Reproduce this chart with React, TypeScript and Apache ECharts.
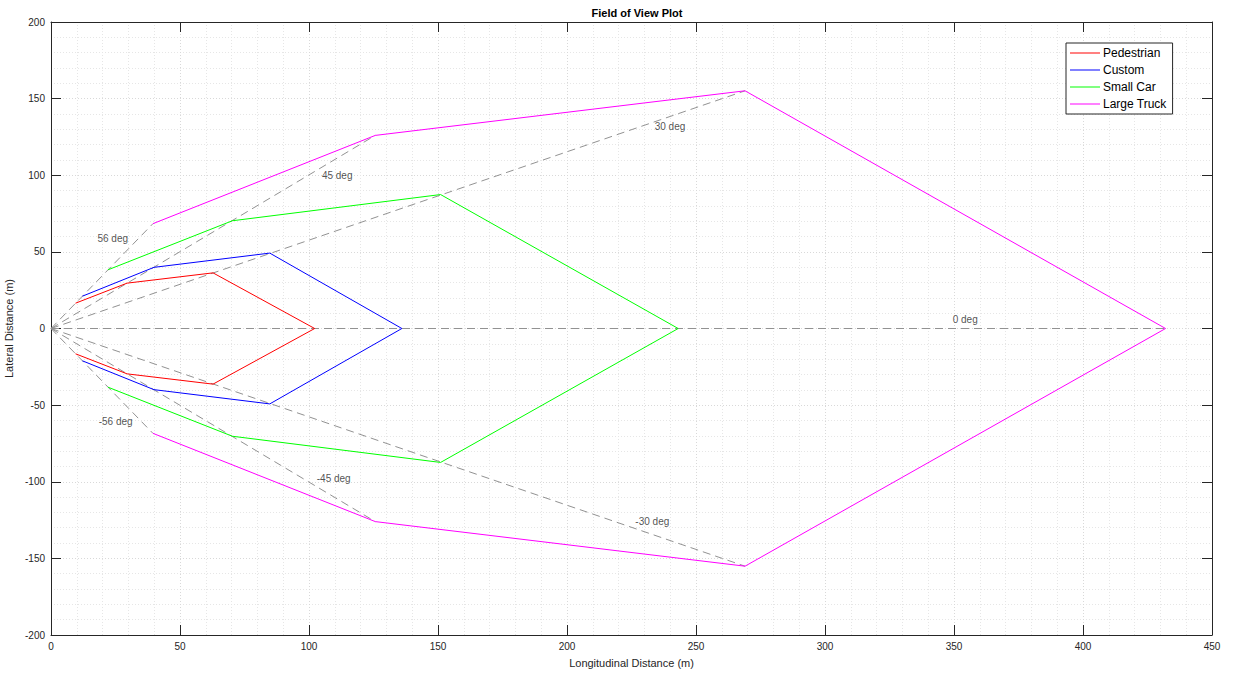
import React, { useEffect, useRef } from "react";
import * as echarts from "echarts";

// Field-of-view outlines (longitudinal x, lateral y)
const pedestrianX = [9.5, 29.5, 62.8, 102.2, 62.8, 29.5, 9.5];
const pedestrianY = [16.5, 29.6, 36.3, 0, -36.3, -29.6, -16.5];
const customX = [12.2, 39.9, 84.8, 136.0, 84.8, 39.9, 12.2];
const customY = [21.1, 39.9, 49.2, 0, -49.2, -39.9, -21.1];
const smallCarX = [22.1, 70.3, 151.0, 243.1, 151.0, 70.3, 22.1];
const smallCarY = [38.3, 70.3, 87.4, 0, -87.4, -70.3, -38.3];
const largeTruckX = [39.5, 125.7, 269.0, 432.0, 269.0, 125.7, 39.5];
const largeTruckY = [68.4, 126.0, 155.1, 0, -155.1, -126.0, -68.4];

// Dashed angle rays from the origin
const rayEndX = [39.5, 125.7, 269.0, 432.0, 269.0, 125.7, 39.5];
const rayEndY = [68.4, 126.0, 155.1, 0, -155.1, -126.0, -68.4];

// Angle labels
const angleLabels = ["56 deg", "45 deg", "30 deg", "0 deg", "-56 deg", "-45 deg", "-30 deg"];
const angleLabelX = [18, 105, 234, 349.5, 18.5, 103, 226.5];
const angleLabelY = [58.5, 100, 131.5, 6, -60.5, -98, -126];

const seriesNames = ["Pedestrian", "Custom", "Small Car", "Large Truck"];
const seriesColors = ["#ff0000", "#0000ff", "#00ff00", "#ff00ff"];

const xTicks = { min: 0, max: 450, interval: 50 };
const yTicks = { min: -200, max: 200, interval: 50 };

const FONT = "'Liberation Sans', Arial, Helvetica, sans-serif";
const AXIS_COLOR = "#262626";

function zip(xs: number[], ys: number[]) {
  return xs.map((x, i) => [x, ys[i]]);
}

export default function App() {
  const ref = useRef<HTMLDivElement>(null);
  useEffect(() => {
    if (!ref.current) return;
    const chart = echarts.init(ref.current, null, { renderer: "svg" });
    const outlines = [
      zip(pedestrianX, pedestrianY),
      zip(customX, customY),
      zip(smallCarX, smallCarY),
      zip(largeTruckX, largeTruckY),
    ];
    const splitLine = { show: true, lineStyle: { color: "#d9d9d9", type: [1, 2] as any, width: 1 } };
    const minorSplitLine = { show: true, lineStyle: { color: "#e6e6e6", type: [1, 2] as any, width: 1 } };
    const baseX = {
      type: "value" as const,
      min: xTicks.min,
      max: xTicks.max,
      interval: xTicks.interval,
      axisLine: { show: true, onZero: false, lineStyle: { color: AXIS_COLOR, width: 1 } },
      axisTick: { show: true, inside: true, length: 10, lineStyle: { color: AXIS_COLOR } },
      minorTick: { show: false, splitNumber: 5 },
    };
    const baseY = {
      type: "value" as const,
      min: yTicks.min,
      max: yTicks.max,
      interval: yTicks.interval,
      axisLine: { show: true, onZero: false, lineStyle: { color: AXIS_COLOR, width: 1 } },
      axisTick: { show: true, inside: true, length: 10, lineStyle: { color: AXIS_COLOR } },
      minorTick: { show: false, splitNumber: 5 },
    };
    const rays = rayEndX.map((x, i) => ({
      type: "line" as const,
      xAxisIndex: 0,
      yAxisIndex: 0,
      data: [[0, 0], [x, rayEndY[i]]],
      showSymbol: false,
      symbol: "none",
      silent: true,
      lineStyle: { color: "#929292", width: 1, type: [8, 5] as any },
      z: 1,
    }));
    chart.setOption({
      animation: false,
      backgroundColor: "#ffffff",
      textStyle: { fontFamily: FONT },
      title: {
        text: "Field of View Plot",
        left: 632,
        top: 2,
        textAlign: "center",
        textStyle: { fontFamily: FONT, fontSize: 11, fontWeight: "bold", color: "#000" },
      },
      legend: {
        data: seriesNames,
        orient: "vertical",
        left: 1066,
        top: 43,
        itemWidth: 30,
        itemHeight: 12,
        itemGap: 5,
        padding: [4, 6, 4, 4],
        borderColor: AXIS_COLOR,
        borderWidth: 1,
        backgroundColor: "#ffffff",
        icon: "path://M0,5.5L30,5.5L30,6.5L0,6.5Z",
        textStyle: { fontFamily: FONT, fontSize: 12, color: "#000", padding: [0, 0, 0, -2] },
        z: 10,
      },
      grid: { left: 51, right: 21, top: 22, bottom: 39, containLabel: false, outerBoundsMode: "none" },
      xAxis: [
        {
          ...baseX,
          position: "bottom",
          name: "Longitudinal Distance (m)",
          nameLocation: "middle",
          nameGap: 22,
          nameTextStyle: { fontFamily: FONT, fontSize: 11, color: AXIS_COLOR },
          axisLabel: { fontFamily: FONT, fontSize: 10, color: AXIS_COLOR, margin: 6 },
          splitLine,
          minorSplitLine,
        },
        {
          ...baseX,
          position: "top",
          axisLabel: { show: false },
          splitLine: { show: false },
        },
      ],
      yAxis: [
        {
          ...baseY,
          position: "left",
          name: "Lateral Distance (m)",
          nameLocation: "middle",
          nameGap: 32,
          nameTextStyle: { fontFamily: FONT, fontSize: 11, color: AXIS_COLOR },
          axisLabel: { fontFamily: FONT, fontSize: 10, color: AXIS_COLOR, margin: 6 },
          splitLine,
          minorSplitLine,
        },
        {
          ...baseY,
          position: "right",
          axisLabel: { show: false },
          splitLine: { show: false },
        },
      ],
      series: [
        ...rays,
        ...outlines.map((data, i) => ({
          type: "line" as const,
          name: seriesNames[i],
          xAxisIndex: 0,
          yAxisIndex: 0,
          data,
          showSymbol: false,
          symbol: "none",
          color: seriesColors[i],
          lineStyle: { color: seriesColors[i], width: 1 },
          z: 3,
        })),
        {
          type: "scatter",
          xAxisIndex: 0,
          yAxisIndex: 0,
          symbolSize: 0,
          silent: true,
          data: angleLabels.map((n, i) => ({ name: n, value: [angleLabelX[i], angleLabelY[i]] })),
          label: {
            show: true,
            position: "right",
            distance: 0,
            formatter: (p: any) => p.name,
            fontFamily: FONT,
            fontSize: 10,
            color: "#262626",
          },
          z: 4,
        },
      ],
    });
    return () => chart.dispose();
  }, []);
  return (
    <div
      ref={ref}
      style={{ position: "fixed", left: 0, top: 0, width: 1233, height: 674 }}
    />
  );
}
